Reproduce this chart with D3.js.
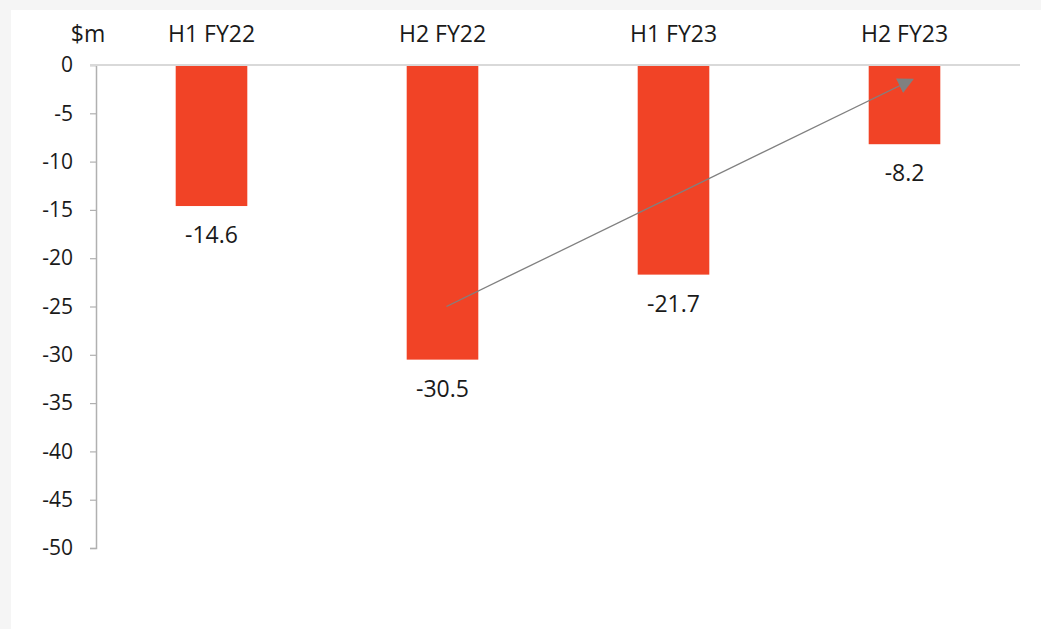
<!DOCTYPE html>
<html>
<head>
<meta charset="utf-8">
<script src="https://cdn.jsdelivr.net/npm/d3@7"></script>
<style>
  body { margin: 0; background: #f5f5f5; }
  text { font-family: "Open Sans", sans-serif; fill: #1a1a1a; }
</style>
</head>
<body>
<div id="vis"></div>
<script>
var periods = ["H1 FY22", "H2 FY22", "H1 FY23", "H2 FY23"];
var values = [-14.6, -30.5, -21.7, -8.2];
var yTicks = [0, -5, -10, -15, -20, -25, -30, -35, -40, -45, -50];
var unitLabel = "$m";
// trend arrow: from (period, value) to (period, value)
var arrowFrom = ["H2 FY22", -25];
var arrowTo = ["H2 FY23", -1.5];

var W = 1041, H = 629;
var svg = d3.select('#vis').append('svg').attr('width', W).attr('height', H);

svg.append('rect').attr('x', 11).attr('y', 10).attr('width', W - 11).attr('height', H - 10).attr('fill', '#fff');

var x = d3.scaleBand().domain(periods).range([96, 1020]).paddingInner(0.69).paddingOuter(0.345);
var y = d3.scaleLinear().domain([0, -50]).range([65, 548]);

// left axis
var yAxis = svg.append('g').attr('transform', 'translate(96,0)')
  .call(d3.axisLeft(y).tickValues(yTicks).tickSize(6).tickPadding(17).tickFormat(function(d) { return String(d); }));
yAxis.select('.domain').attr('stroke', '#b0b0b0').attr('stroke-width', 1.5);
yAxis.selectAll('.tick line').attr('stroke', '#b0b0b0').attr('stroke-width', 1.2);
yAxis.selectAll('.tick text').style('font-size', '21px').attr('fill', '#1a1a1a');

// bars
svg.selectAll('rect.bar')
  .data(values).enter().append('rect')
  .attr('class', 'bar')
  .attr('x', function(d, i) { return x(periods[i]); })
  .attr('y', y(0))
  .attr('width', x.bandwidth())
  .attr('height', function(d) { return y(d) - y(0); })
  .attr('fill', '#f14326');

// zero line
svg.append('line')
  .attr('x1', 90).attr('x2', 1020)
  .attr('y1', y(0)).attr('y2', y(0))
  .attr('stroke', '#d9d9d9').attr('stroke-width', 2);

// value labels
svg.selectAll('text.val')
  .data(values).enter().append('text')
  .attr('class', 'val')
  .attr('x', function(d, i) { return x(periods[i]) + x.bandwidth() / 2; })
  .attr('y', function(d) { return y(d) + 37; })
  .attr('text-anchor', 'middle')
  .style('font-size', '23px')
  .text(function(d) { return d.toFixed(1); });

// category labels on top
svg.selectAll('text.cat')
  .data(periods).enter().append('text')
  .attr('class', 'cat')
  .attr('x', function(d) { return x(d) + x.bandwidth() / 2; })
  .attr('y', 42)
  .attr('text-anchor', 'middle')
  .style('font-size', '23px')
  .text(function(d) { return d; });

svg.append('text').attr('x', 88).attr('y', 42).attr('text-anchor', 'middle')
  .style('font-size', '23px').text(unitLabel);

// arrow
svg.append('defs').append('marker')
  .attr('id', 'ah').attr('viewBox', '0 0 10 10').attr('refX', 9).attr('refY', 5)
  .attr('markerWidth', 16).attr('markerHeight', 16).attr('markerUnits', 'userSpaceOnUse')
  .attr('orient', 'auto')
  .append('path').attr('d', 'M0,0 L10,5 L0,10 Z').attr('fill', '#808080');

svg.append('line')
  .attr('x1', x(arrowFrom[0]) + x.bandwidth() / 2 + 4).attr('y1', y(arrowFrom[1]))
  .attr('x2', x(arrowTo[0]) + x.bandwidth() / 2 + 8).attr('y2', y(arrowTo[1]))
  .attr('stroke', '#808080').attr('stroke-width', 1.3)
  .attr('marker-end', 'url(#ah)');
</script>
</body>
</html>
